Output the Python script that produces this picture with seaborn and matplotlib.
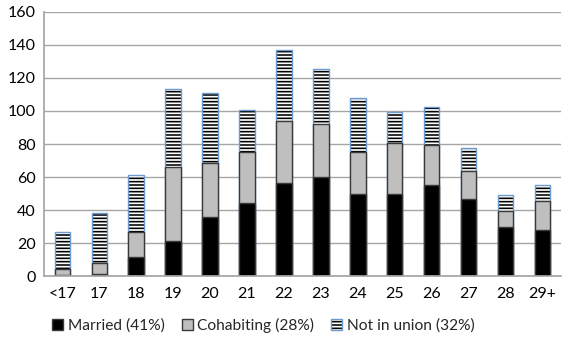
import matplotlib
matplotlib.use("Agg")
import matplotlib.pyplot as plt
import seaborn as sns
import pandas as pd
import numpy as np
from matplotlib.patches import Patch

ages = ["<17", "17", "18", "19", "20", "21", "22", "23", "24", "25", "26", "27", "28", "29+"]
married = [0.5, 1.6, 11.5, 21, 36, 44, 56.4, 60, 50, 50, 55, 46.5, 30, 28]
cohabiting = [4, 6.1, 15.4, 45, 32.5, 31.4, 37.6, 32, 25.2, 30.8, 24.2, 17.3, 9.6, 17.3]
not_in_union = [22, 30.3, 34.1, 47.5, 42.2, 25.2, 42.8, 33.5, 32.8, 18.4, 23, 13.8, 9.7, 9.7]
legend_labels = ["Married (41%)", "Cohabiting (28%)", "Not in union (32%)"]

sns.set_theme(style="white")
plt.rcParams["font.family"] = ["Lato", "DejaVu Sans"]
plt.rcParams["hatch.linewidth"] = 1.15
plt.rcParams["hatch.color"] = "black"

df = pd.DataFrame({"age": ages, "married": married,
                   "cohab": cohabiting, "notu": not_in_union})
df["lvl2"] = df["married"] + df["cohab"]
df["lvl3"] = df["lvl2"] + df["notu"]

fig = plt.figure(figsize=(5.7, 3.5), dpi=100)
ax = fig.add_axes([0.077, 0.211, 0.907, 0.755])

w = 0.42
sns.barplot(data=df, x="age", y="lvl3", color="white", width=w, ax=ax,
            edgecolor="#6A9AD0", linewidth=1.0, hatch="-----", saturation=1)
for p in ax.patches:
    p._hatch_color = (0, 0, 0, 1)
    p.stale = True
sns.barplot(data=df, x="age", y="lvl2", color="#BFBFBF", width=w, ax=ax,
            edgecolor="#3A3A3A", linewidth=1.0, saturation=1)
sns.barplot(data=df, x="age", y="married", color="black", width=w, ax=ax,
            edgecolor="#3A3A3A", linewidth=1.0, saturation=1)

ax.set_ylim(0, 160)
ax.set_xlim(-0.5, len(ages) - 0.5)
ax.set_yticks(np.arange(0, 161, 20))
ax.yaxis.grid(True, color="#A6A6A6", linewidth=1.0)
ax.set_axisbelow(True)
ax.set_xlabel("")
ax.set_ylabel("")
for s in ["top", "right"]:
    ax.spines[s].set_visible(False)
ax.spines["left"].set_color("#A6A6A6")
ax.spines["bottom"].set_color("#A6A6A6")
ax.tick_params(axis="y", length=0, labelsize=11.5, pad=6)
ax.tick_params(axis="x", length=0, labelsize=11.5, pad=8)
ax.set_xticks(np.arange(-0.5, len(ages), 1), minor=True)
ax.tick_params(axis="x", which="minor", length=5, color="#A6A6A6", direction="out")
for t in ax.get_xticklabels() + ax.get_yticklabels():
    t.set_color("black")

h3 = Patch(facecolor="white", edgecolor="#6A9AD0", hatch="-----")
h3._hatch_color = (0, 0, 0, 1)
handles = [Patch(facecolor="black", edgecolor="#3A3A3A"),
           Patch(facecolor="#BFBFBF", edgecolor="#3A3A3A"),
           h3]
fig.legend(handles, legend_labels, loc="center", bbox_to_anchor=(0.462, 0.07),
           ncol=3, frameon=False, fontsize=11.2, handlelength=0.7, handleheight=0.7,
           handletextpad=0.3, columnspacing=1.1)

fig.savefig("out.png", dpi=100)
